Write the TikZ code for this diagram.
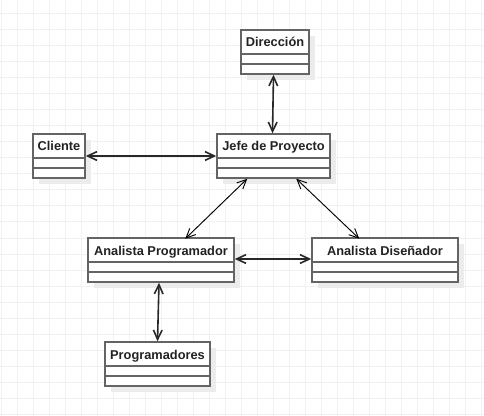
\documentclass[tikz,border=0pt]{standalone}
\usepackage{fontspec}
\setmainfont{Liberation Sans}
\usetikzlibrary{arrows.meta,calc}
\definecolor{gridc}{RGB}{241,241,241}
\definecolor{shadowc}{RGB}{236,236,236}
\definecolor{borderc}{RGB}{100,100,100}
\definecolor{textc}{RGB}{34,34,34}
\definecolor{connc}{RGB}{40,40,40}
\tikzset{
  gridline/.style={draw=gridc, line width=0.75pt},
  classbox/.style={draw=borderc, fill=white, line width=1.1pt, inner sep=0pt, minimum height=33pt},
  classline/.style={draw=borderc, line width=1.1pt},
  classtext/.style={anchor=base, text=textc, inner sep=0pt, font=\fontsize{9.6pt}{11pt}\selectfont\bfseries},
  barb/.tip={Straight Barb[length=7pt,width=6.5pt]},
  thickconn/.style={barb-barb, draw=connc, line width=1.2pt},
  thinconn/.style={barb-barb, draw=black, line width=0.7pt},
}
\newcommand\umlclass[5]{%
  \fill[shadowc] (#2+6,#3+6) rectangle (#4+6,#3+50);
  \node[classbox, minimum width={(#4-#2)*0.75pt}] (#1) at ({(#2+#4)/2},#3+22) {};
  \draw[classline] (#2,#3+24) -- (#4,#3+24);
  \draw[classline] (#2,#3+34) -- (#4,#3+34);
  \node[classtext] at ({(#2+#4)/2},#3+17) {#5};
}
\begin{document}
\begin{tikzpicture}[x=0.75pt,y=-0.75pt]
\useasboundingbox (0,0) rectangle (484,416);
\fill[white] (0,0) rectangle (484,416);
\foreach \i in {0,...,30} {\draw[gridline] (1+16*\i,0) -- (1+16*\i,416);}
\foreach \j in {0,...,25} {\draw[gridline] (0,14+16*\j) -- (484,14+16*\j);}

\umlclass{dir}{241}{30}{309}{Dirección}
\umlclass{cli}{33}{134}{85}{Cliente}
\umlclass{jefe}{217}{134}{330}{Jefe de Proyecto}
\umlclass{ap}{88}{238}{234}{Analista Programador}
\umlclass{ad}{312}{238}{458}{Analista Diseñador}
\umlclass{prog}{105}{342}{210}{Programadores}

\draw[thickconn] ($(dir.south)+(-1.5,0)$) -- ($(jefe.north)+(-1,0)$);
\draw[thickconn] (cli.east) -- (jefe.west);
\draw[thinconn] ($(jefe.south west)+(31,0)$) -- ($(ap.south west)+(98,-44)$);
\draw[thinconn] ($(jefe.south west)+(80,0)$) -- ($(ad.south west)+(48,-44)$);
\draw[thickconn] ($(ap.east)+(0,-1)$) -- ($(ad.west)+(0,-1)$);
\draw[thickconn] ($(ap.south)+(-2,0)$) -- (prog.north);
\end{tikzpicture}
\end{document}
